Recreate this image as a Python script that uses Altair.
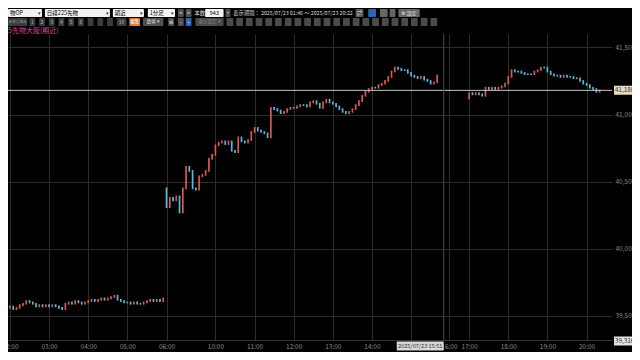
import altair as alt
import pandas as pd

W, H = 604, 306

# ---------------- data (5-minute candles) ----------------
# slot = minutes on the compressed intraday axis (02:00 = 0, gaps removed)
night1_slots = list(range(-5, 240, 5))
night1_open = 39560
night1_close = [39560, 39570, 39550, 39560, 39580, 39590, 39610, 39600, 39590, 39570,
                39580, 39570, 39580, 39570, 39580, 39570, 39560, 39550, 39590, 39600,
                39590, 39610, 39600, 39590, 39600, 39610, 39620, 39610, 39620, 39630,
                39620, 39630, 39640, 39650, 39620, 39610, 39600, 39600, 39590, 39600,
                39590, 39590, 39600, 39610, 39620, 39610, 39620, 39610, 39630]

day_slots = list(range(240, 660, 5))
day_open = 40450
day_close = [40310, 40380, 40360, 40390, 40270, 40450, 40610, 40580, 40450, 40440,
             40540, 40550, 40580, 40670, 40700, 40770, 40790, 40800, 40780, 40800,
             40730, 40720, 40830, 40800, 40790, 40810, 40870, 40900, 40880, 40870,
             40860, 40830, 41050, 41040, 41030, 41010, 41020, 41040, 41050, 41050,
             41060, 41070, 41070, 41060, 41090, 41100, 41080, 41050, 41090, 41110,
             41090, 41080, 41060, 41040, 41020, 41010, 41020, 41040, 41070, 41100,
             41140, 41170, 41190, 41200, 41200, 41220, 41230, 41250, 41280, 41320,
             41350, 41340, 41330, 41330, 41310, 41290, 41280, 41270, 41280, 41260,
             41250, 41230, 41240, 41290]

night2_slots = list(range(704, 905, 5))
night2_open = 41120
night2_close = [41160, 41150, 41160, 41150, 41140, 41200, 41190, 41200, 41190, 41200,
                41210, 41230, 41280, 41330, 41320, 41320, 41310, 41300, 41300, 41300,
                41320, 41330, 41350, 41350, 41320, 41300, 41290, 41290, 41280, 41290,
                41280, 41280, 41270, 41270, 41250, 41230, 41220, 41200, 41190, 41170,
                41180]

tick_slots = [0, 60, 120, 180, 240, 315, 375, 435, 495, 555, 615, 673, 704, 764, 824, 884]
tick_labels = ["02:00", "03:00", "04:00", "05:00", "06:00", "10:00", "11:00", "12:00",
               "13:00", "14:00", "15:00", "16:00", "17:00", "18:00", "19:00", "20:00"]

y_levels = [39500, 40000, 40500, 41000, 41500]
last_price = 41180
cross_slot = 665
cross_label = "2025/07/23 15:51"
cross_price = "39,316"
chart_title = "5先物大阪(期近)"

X_DOMAIN = [-3, 923]
Y_DOMAIN = [39320, 41600]

# ---------------- build candle table ----------------
rows = []
for slots, first_open, closes in [(night1_slots, night1_open, night1_close),
                                  (day_slots, day_open, day_close),
                                  (night2_slots, night2_open, night2_close)]:
    prev = first_open
    for s, c in zip(slots, closes):
        rows.append({"slot": s, "open": prev, "close": c,
                     "dir": "up" if c > prev else "down"})
        prev = c
candles = pd.DataFrame(rows)

xs = alt.Scale(domain=X_DOMAIN, nice=False, zero=False)
ys = alt.Scale(domain=Y_DOMAIN, nice=False, zero=False)

label_expr = ""
for s, l in zip(tick_slots, tick_labels):
    label_expr += f"datum.value == {s} ? '{l}' : "
label_expr += "''"

x_axis = alt.Axis(values=tick_slots, labelExpr=label_expr, grid=True, gridColor="#2c2c2c",
                  ticks=False, domainColor="#333333", labelColor="#8a8a8a", labelFontSize=6.5,
                  labelPadding=3, title=None, labelFlush=False)
y_axis = alt.Axis(values=y_levels, format=",d", grid=True, gridColor="#2c2c2c", ticks=False,
                  domain=False, orient="right", labelColor="#8a8a8a", labelFontSize=6.5,
                  labelPadding=3, title=None)

candle_layer = alt.Chart(candles).mark_rule(strokeWidth=1.7, strokeCap="square").encode(
    x=alt.X("slot:Q", scale=xs, axis=x_axis),
    y=alt.Y("open:Q", scale=ys, axis=y_axis),
    y2="close:Q",
    color=alt.Color("dir:N", scale=alt.Scale(domain=["up", "down"],
                                             range=["#d65a50", "#5cb6da"]), legend=None),
)

price_df = pd.DataFrame({"price": [last_price], "label": [f"{last_price:,}"]})
price_line = alt.Chart(price_df).mark_rule(color="#c4c4c4", strokeWidth=1).encode(
    y=alt.Y("price:Q", scale=ys), x=alt.value(0), x2=alt.value(W))
price_box = alt.Chart(price_df).mark_rule(color="#e6dcc0", strokeWidth=9).encode(
    y=alt.Y("price:Q", scale=ys), x=alt.value(W + 2), x2=alt.value(W + 40))
price_text = alt.Chart(price_df).mark_text(align="left", baseline="middle", fontSize=6.3,
                                           color="#333333").encode(
    y=alt.Y("price:Q", scale=ys), x=alt.value(W + 3), text="label:N")

cross_df = pd.DataFrame({"slot": [cross_slot], "start": [cross_slot - 72],
                         "mid": [cross_slot - 36], "label": [cross_label]})
cross_line = alt.Chart(cross_df).mark_rule(color="#4a4a4a", strokeWidth=1).encode(
    x=alt.X("slot:Q", scale=xs), y=alt.value(0), y2=alt.value(H))
cross_box = alt.Chart(cross_df).mark_rule(color="#d8d8d8", strokeWidth=9).encode(
    x=alt.X("start:Q", scale=xs), x2="slot:Q", y=alt.value(H + 6))
cross_text = alt.Chart(cross_df).mark_text(align="center", baseline="middle", fontSize=5.6,
                                           color="#333333").encode(
    x=alt.X("mid:Q", scale=xs), y=alt.value(H + 6), text="label:N")

yc_df = pd.DataFrame({"label": [cross_price]})
yc_box = alt.Chart(yc_df).mark_rule(color="#e2e2e2", strokeWidth=9).encode(
    x=alt.value(W + 2), x2=alt.value(W + 40), y=alt.value(H + 1))
yc_text = alt.Chart(yc_df).mark_text(align="left", baseline="middle", fontSize=6.3,
                                     color="#333333").encode(
    x=alt.value(W + 3), y=alt.value(H + 1), text="label:N")

# ---------------- toolbar (UI chrome) ----------------
S = W / 622
R1 = (-25, -17)
R2 = (-16, -8)
tb = []
def box(x0, x1, row, fill, label="", tcolor="#000000", align="center", fs=5.5):
    y0, y1 = row
    tb.append({"x0": x0 * S, "x1": x1 * S, "y0": y0, "y1": y1, "fill": fill,
               "label": label, "tcolor": tcolor, "fs": fs,
               "tx": (x0 + 2) * S if align == "left" else (x0 + x1) / 2 * S,
               "ty": (y0 + y1) / 2, "align": align})

box(0, 35, R1, "#f2f2f2", "物OP", align="left")
box(38, 105, R1, "#f2f2f2", "日経225先物", align="left")
box(108, 140, R1, "#f2f2f2", "期近", align="left")
box(144, 172, R1, "#f2f2f2", "1分足", align="left")
box(175, 181, R1, "#505050", "<", "#dddddd")
box(183, 189, R1, "#505050", ">", "#dddddd")
box(203, 222, R1, "#f2f2f2", "943")
box(224, 229, R1, "#505050", "+", "#dddddd")
box(358, 366, R1, "#5a5a5a", "⇄", "#dddddd")
box(371, 379, R1, "#2b66b8", "", "#ffffff")
box(383, 391, R1, "#666666", "", "#ffffff")
box(393, 399, R1, "#666666", "", "#ffffff")
box(402, 424, R1, "#666666", "⚙ 設定", "#eeeeee", fs=5)

box(0, 20, R2, "#3c3c3c", "テクニカル", "#cccccc", fs=3.6)
for i, lab in enumerate(["1", "2", "3", "4", "5", "6", "", "", ""]):
    box(22 + 10 * i, 28 + 10 * i, R2, "#3c3c3c", lab, "#bbbbbb", fs=5)
box(112, 122, R2, "#3c3c3c", "10", "#bbbbbb", fs=5)
box(125, 136, R2, "#e07a28", "編集", "#ffffff", fs=4.5)
box(139, 160, R2, "#505050", "数値 ▾", "#dddddd", fs=4.5)
box(165, 171, R2, "#505050", "⊞", "#dddddd", fs=5)
box(175, 181, R2, "#505050", "−", "#dddddd", fs=5)
box(183, 189, R2, "#2b66b8", "+", "#ffffff", fs=5)
box(193, 222, R2, "#4a4a4a", "表示設定 ▾", "#888888", fs=4.5)
for i in range(22):
    box(225 + 10 * i, 232 + 10 * i, R2, "#4a4a4a", "", "#999999")

tbdf = pd.DataFrame(tb)
tb_rect = alt.Chart(tbdf).mark_rect(cornerRadius=1).encode(
    x=alt.X("x0:Q", scale=None, axis=None), x2="x1:Q",
    y=alt.Y("y0:Q", scale=None, axis=None), y2="y1:Q",
    fill=alt.Fill("fill:N", scale=None))
tb_text_c = alt.Chart(tbdf[tbdf["align"] == "center"]).mark_text(
    align="center", baseline="middle").encode(
    x=alt.X("tx:Q", scale=None, axis=None), y=alt.Y("ty:Q", scale=None, axis=None),
    text="label:N", color=alt.Color("tcolor:N", scale=None),
    size=alt.Size("fs:Q", scale=None))
tb_text_l = alt.Chart(tbdf[tbdf["align"] == "left"]).mark_text(
    align="left", baseline="middle").encode(
    x=alt.X("tx:Q", scale=None, axis=None), y=alt.Y("ty:Q", scale=None, axis=None),
    text="label:N", color=alt.Color("tcolor:N", scale=None),
    size=alt.Size("fs:Q", scale=None))

arrows_df = pd.DataFrame({"ax": [32 * S, 102 * S, 137 * S, 169 * S], "label": ["▾"] * 4})
tb_arrows = alt.Chart(arrows_df).mark_text(align="center", baseline="middle", fontSize=5,
                                           color="#333333").encode(
    x=alt.X("ax:Q", scale=None, axis=None), y=alt.value(-21), text="label:N")

info_df = pd.DataFrame({"ix": [192 * S, 232 * S],
                        "label": ["本数", "表示期間： 2025/07/23 01:46 ～ 2025/07/23 20:22"]})
tb_info = alt.Chart(info_df).mark_text(align="left", baseline="middle", fontSize=5.3,
                                       color="#dddddd").encode(
    x=alt.X("ix:Q", scale=None, axis=None), y=alt.value(-21), text="label:N")

title_df = pd.DataFrame({"label": [chart_title]})
title_layer = alt.Chart(title_df).mark_text(align="left", baseline="bottom", fontSize=7,
                                            color="#d8449a").encode(
    x=alt.value(0), y=alt.value(-0.5), text="label:N")

chart = alt.layer(
    candle_layer, price_line, cross_line, price_box, price_text, cross_box, cross_text,
    yc_box, yc_text, tb_rect, tb_text_c, tb_text_l, tb_arrows, tb_info, title_layer
).properties(
    width=W, height=H,
    autosize=alt.AutoSizeParams(type="none"),
    padding={"left": 0, "top": 26, "right": 20, "bottom": 12},
).configure(
    background="#000000", font="Noto Sans CJK JP"
).configure_view(stroke=None)

chart.save("out.html", embed_options={"renderer": "svg", "actions": False})
